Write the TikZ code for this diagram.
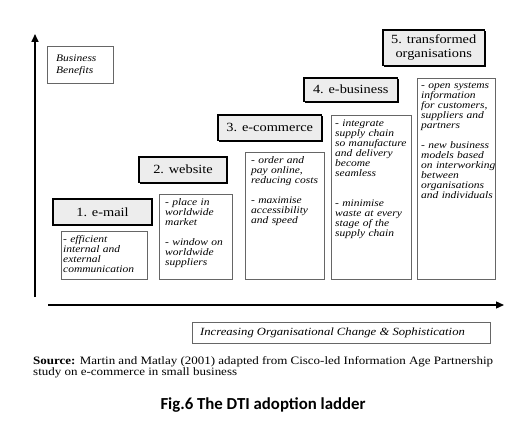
\documentclass[tikz,border=0pt]{standalone}
\usepackage{fontspec}
\setmainfont{Liberation Serif}[FakeStretch=1.15]
\newfontfamily\capfont{Carlito}
\usetikzlibrary{arrows.meta,shadows}
\begin{document}
\begin{tikzpicture}[x=1pt,y=-1pt,
  lbl/.style={draw=black, line width=1.1pt, fill=black!7, inner sep=0pt, outer sep=0pt,
    anchor=north west, drop shadow={shadow xshift=1.3pt, shadow yshift=-1.3pt, opacity=1, fill=black},
    font=\fontsize{12.5}{14}\selectfont, align=center},
  dbox/.style={draw=black!60, line width=0.7pt, inner sep=0pt, outer sep=0pt, anchor=north west},
  dtext/.style={inner sep=0pt, anchor=north west, text width=#1, align=left,
    font=\itshape\fontsize{10}{10}\selectfont, xshift=6pt, yshift=-4.5pt},
  axis/.style={line width=1.6pt, -{Triangle[length=8pt,width=7pt]}},
]
\useasboundingbox[fill=white] (0,0) rectangle (507,436);

% axes
\coordinate (vb) at (35,297);
\coordinate (vt) at (35,34);
\coordinate (hl) at (48,305);
\coordinate (hr) at (504,305);
\draw[axis] (vb) -- (vt);
\draw[axis,line width=1.3pt] (hl) -- (hr);

% business benefits
\node[dbox, minimum width=66pt, minimum height=37pt] (bb) at (47,46) {};
\node[dtext=60pt, font=\itshape\fontsize{10}{12}\selectfont, xshift=3pt, yshift=-4pt] (bbt) at (bb.north west) {Business\\Benefits};

% step labels
\node[lbl, minimum width=99pt, minimum height=26pt] (l1) at (53,199) {1. e-mail};
\node[lbl, minimum width=88pt, minimum height=25.5pt] (l2) at (139,157) {2. website};
\node[lbl, minimum width=103.5pt, minimum height=25.5pt] (l3) at (218,115) {3. e-commerce};
\node[lbl, minimum width=93.5pt, minimum height=23.5pt] (l4) at (304,78) {4. e-business};
\node[lbl, minimum width=101.5pt, minimum height=35.5pt] (l5) at (383,30) {5. transformed\\organisations};

% description boxes
\node[dbox, minimum width=86pt, minimum height=48pt] (d1) at (61,231) {};
\node[dbox, minimum width=73pt, minimum height=85pt] (d2) at (159,194) {};
\node[dbox, minimum width=79pt, minimum height=127pt] (d3) at (245,152) {};
\node[dbox, minimum width=80pt, minimum height=164pt] (d4) at (331,115) {};
\node[dbox, minimum width=78pt, minimum height=201pt] (d5) at (417,78) {};

\node[dtext=80pt, xshift=-4pt] (t1) at (d1.north west) {- efficient\\internal and\\external\\communication};
\node[dtext=70pt] (t2) at (d2.north west) {- place in\\worldwide\\market\\[10pt]- window on\\worldwide\\suppliers};
\node[dtext=75pt] (t3) at (d3.north west) {- order and\\pay online,\\reducing costs\\[10pt]- maximise\\accessibility\\and speed};
\node[dtext=78pt, xshift=-2pt] (t4) at (d4.north west) {- integrate\\supply chain\\so manufacture\\and delivery\\become\\seamless\\[20pt]- minimise\\waste at every\\stage of the\\supply chain};
\node[dtext=78pt, xshift=-2pt] (t5) at (d5.north west) {- open systems\\information\\for customers,\\suppliers and\\partners\\[10pt]- new business\\models based\\on interworking\\between\\organisations\\and individuals};

% x-axis caption
\node[dbox, minimum width=298pt, minimum height=21pt] (ib) at (192,322) {};
\node[anchor=west, inner sep=0pt, font=\itshape\fontsize{11}{13}\selectfont, xshift=8pt] (it) at (ib.west) {Increasing Organisational Change \& Sophistication};

% source
\node[anchor=north west, inner sep=0pt, align=left, font=\fontsize{11.3}{10}\selectfont] (src) at (33,356)
  {\textbf{Source:} Martin and Matlay (2001) adapted from Cisco-led Information Age Partnership\\study on e-commerce in small business};

% figure caption
\node[inner sep=0pt, font=\capfont\bfseries\fontsize{16.8}{20}\selectfont] (cap) at (263,405) {Fig.6 The DTI adoption ladder};
\end{tikzpicture}
\end{document}
